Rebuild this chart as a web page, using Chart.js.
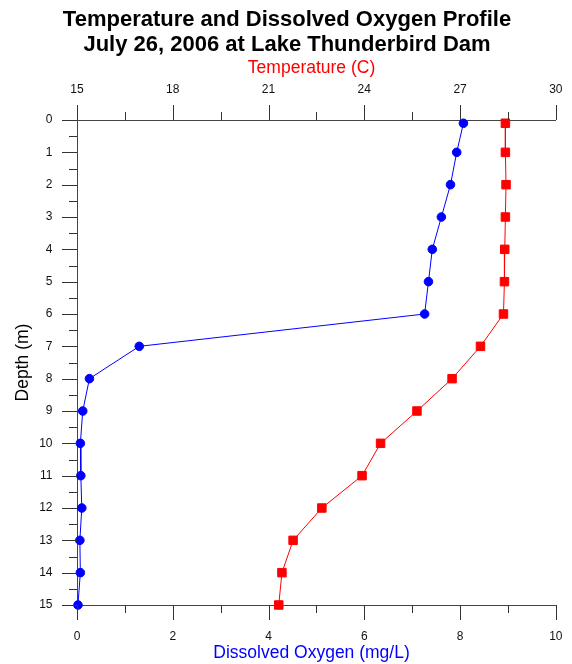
<!DOCTYPE html>
<html>
<head>
<meta charset="utf-8">
<script src="https://cdn.jsdelivr.net/npm/chart.js@4/dist/chart.umd.min.js"></script>
<style>
  html, body { margin: 0; padding: 0; background: #fff; }
  #wrap { width: 572px; height: 664px; }
</style>
</head>
<body>
<div id="wrap"><canvas id="profile" width="572" height="664"></canvas></div>
<script>
// Depth profile sampled at the dam, 26 July 2006
const depthM = [0.1, 1, 2, 3, 4, 5, 6, 7, 8, 9, 10, 11, 12, 13, 14, 15];
const dissolvedOxygen = [8.07, 7.93, 7.80, 7.61, 7.42, 7.34, 7.26, 1.30, 0.26, 0.12, 0.07, 0.08, 0.10, 0.06, 0.07, 0.02];
const temperatureC = [28.42, 28.42, 28.44, 28.42, 28.40, 28.39, 28.36, 27.64, 26.75, 25.65, 24.51, 23.93, 22.67, 21.77, 21.42, 21.32];

// Axis ranges and tick steps
const doRange = [0, 10], doMajor = 2, doMinor = 1;
const tempRange = [15, 30], tempMajor = 3, tempMinor = 1.5;
const depthRange = [0, 15], depthMajor = 1, depthMinor = 0.5;

const FONT = "'Liberation Sans', Arial, sans-serif";
const TITLE_BLOCK = 7 + 2 * 22 * 1.14;   // padding + two title lines

// Draws major and minor tick marks outside the plot area
const tickMarks = {
  id: 'tickMarks',
  afterDraw(chart) {
    const { ctx } = chart;
    const { x, x2, y } = chart.scales;
    const seg = (ax, ay, bx, by) => { ctx.beginPath(); ctx.moveTo(ax, ay); ctx.lineTo(bx, by); ctx.stroke(); };
    const isMajor = (v, step, start) => Math.abs(((v - start) / step) - Math.round((v - start) / step)) < 1e-6;
    ctx.save();
    ctx.strokeStyle = '#333';
    ctx.lineWidth = 1;
    // bottom: dissolved oxygen
    for (let v = doRange[0]; v <= doRange[1] + 1e-9; v += doMinor) {
      const px = Math.round(x.getPixelForValue(v)) + 0.5;
      const len = isMajor(v, doMajor, doRange[0]) ? 15 : 8;
      seg(px, y.bottom, px, y.bottom + len);
    }
    // top: temperature
    for (let v = tempRange[0]; v <= tempRange[1] + 1e-9; v += tempMinor) {
      const px = Math.round(x2.getPixelForValue(v)) + 0.5;
      const len = isMajor(v, tempMajor, tempRange[0]) ? 15 : 8;
      seg(px, y.top, px, y.top - len);
    }
    // left: depth
    for (let v = depthRange[0]; v <= depthRange[1] + 1e-9; v += depthMinor) {
      const py = Math.round(y.getPixelForValue(v)) + 0.5;
      const len = isMajor(v, depthMajor, depthRange[0]) ? 15 : 8;
      seg(x.left, py, x.left - len, py);
    }
    ctx.restore();
  }
};

const toPoints = (xs) => xs.map((v, i) => ({ x: v, y: depthM[i] }));

const tickFont = { family: FONT, size: 12 };
const axisTitleFont = { family: FONT, size: 17.5, lineHeight: 1.2 };
const hiddenGrid = { display: true, drawOnChartArea: false, drawTicks: true, tickLength: 15, color: 'rgba(0,0,0,0)', tickColor: 'rgba(0,0,0,0)' };

new Chart(document.getElementById('profile'), {
  type: 'scatter',
  data: {
    datasets: [
      {
        label: 'Temperature (C)',
        data: toPoints(temperatureC),
        xAxisID: 'x2',
        showLine: true,
        borderColor: '#ff0000',
        backgroundColor: '#ff0000',
        borderWidth: 1,
        pointStyle: 'rect',
        pointRadius: 6,
        pointBorderWidth: 1,
        pointBorderColor: '#ff0000',
        pointBackgroundColor: '#ff0000',
        clip: false
      },
      {
        label: 'Dissolved Oxygen (mg/L)',
        data: toPoints(dissolvedOxygen),
        xAxisID: 'x',
        showLine: true,
        borderColor: '#0000ff',
        backgroundColor: '#0000ff',
        borderWidth: 1,
        pointStyle: 'circle',
        pointRadius: 4.3,
        pointBorderWidth: 1,
        pointBorderColor: '#0000ff',
        pointBackgroundColor: '#0000ff',
        clip: false
      }
    ]
  },
  options: {
    responsive: false,
    animation: false,
    devicePixelRatio: 1,
    layout: { padding: { left: 16, right: 14, top: 0, bottom: 0 } },
    plugins: {
      legend: { display: false },
      tooltip: { enabled: false },
      title: {
        display: true,
        text: ['Temperature and Dissolved Oxygen Profile', 'July 26, 2006 at Lake Thunderbird Dam'],
        color: '#000',
        font: { family: FONT, size: 22, weight: 'bold', lineHeight: 1.14 },
        padding: { top: 7, bottom: 0 }
      }
    },
    scales: {
      x: {
        type: 'linear',
        position: 'bottom',
        min: doRange[0], max: doRange[1],
        afterFit(s) { s.height = 59; },
        border: { display: true, color: '#444', width: 1 },
        grid: hiddenGrid,
        ticks: { stepSize: doMajor, padding: 9.5, color: '#111', font: tickFont, maxRotation: 0 },
        title: { display: true, text: 'Dissolved Oxygen (mg/L)  ', color: '#0000ff', font: axisTitleFont, padding: { top: 0, bottom: 0 } }
      },
      x2: {
        type: 'linear',
        position: 'top',
        min: tempRange[0], max: tempRange[1],
        afterFit(s) { s.height = 120 - TITLE_BLOCK; },
        border: { display: true, color: '#444', width: 1 },
        grid: hiddenGrid,
        ticks: { stepSize: tempMajor, padding: 8, color: '#111', font: tickFont, maxRotation: 0 },
        title: { display: true, text: 'Temperature (C)  ', color: '#ff0000', font: axisTitleFont, padding: { top: 1, bottom: 0 } }
      },
      y: {
        type: 'linear',
        position: 'left',
        reverse: true,
        min: depthRange[0], max: depthRange[1],
        afterFit(s) { s.width = 61; },
        border: { display: true, color: '#444', width: 1 },
        grid: hiddenGrid,
        ticks: { stepSize: depthMajor, padding: 9.5, color: '#111', font: tickFont },
        title: { display: true, text: 'Depth (m)', color: '#000', font: axisTitleFont, padding: { top: -3.2, bottom: 0 } }
      }
    }
  },
  plugins: [tickMarks]
});
</script>
</body>
</html>
